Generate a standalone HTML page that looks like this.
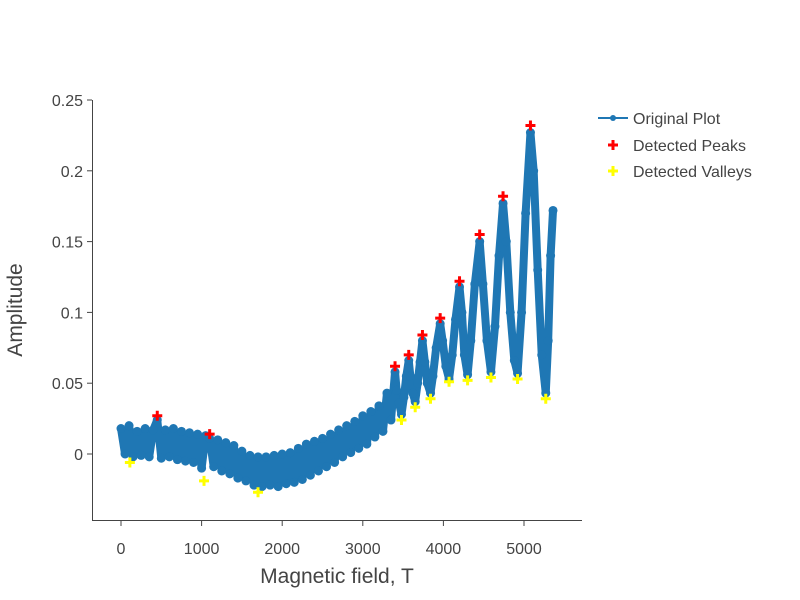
<!DOCTYPE html>
<html><head><meta charset="utf-8"><style>
body{margin:0;background:#fff;}
svg{font-family:"Liberation Sans",sans-serif;display:block}
</style></head><body>
<svg id="chart" width="800" height="600"></svg>
<script>
const xVals=[0,50,100,150,200,250,300,350,400,450,500,550,600,650,700,750,800,850,900,950,1000,1050,1100,1150,1200,1250,1300,1350,1400,1450,1500,1550,1600,1650,1700,1750,1800,1850,1900,1950,2000,2050,2100,2150,2200,2250,2300,2350,2400,2450,2500,2550,2600,2650,2700,2750,2800,2850,2900,2950,3000,3050,3100,3150,3200,3250,3300,3350,
3400,3420,3450,3480,3510,3540,3570,3590,3620,3650,3680,3710,3740,3770,3800,3840,3870,3910,3960,3990,4030,4070,4110,4150,4200,4230,4260,4300,4340,4390,4450,4490,4540,4590,4640,4690,4740,4780,4830,4880,4920,4970,5020,5080,5120,5170,5220,5270,5300,5330,5360];
const yVals=[0.018,0.0,0.02,-0.002,0.016,-0.001,0.018,-0.002,0.017,0.024,-0.003,0.017,-0.002,0.018,-0.004,0.016,-0.005,0.015,-0.006,0.014,-0.01,0.013,0.011,-0.009,0.01,-0.012,0.008,-0.014,0.006,-0.017,0.002,-0.019,-0.001,-0.022,-0.002,-0.023,-0.002,-0.022,-0.001,-0.023,0.0,-0.021,0.001,-0.02,0.004,-0.018,0.007,-0.015,0.009,-0.012,0.011,-0.009,0.014,-0.006,0.017,-0.002,0.02,0.001,0.023,0.004,0.027,0.007,0.03,0.012,0.034,0.016,0.043,0.024,
0.058,0.045,0.036,0.028,0.04,0.055,0.066,0.055,0.043,0.037,0.05,0.065,0.08,0.065,0.05,0.043,0.055,0.075,0.092,0.08,0.062,0.053,0.07,0.095,0.118,0.1,0.07,0.056,0.08,0.12,0.15,0.12,0.08,0.058,0.09,0.14,0.177,0.15,0.1,0.066,0.057,0.1,0.17,0.227,0.2,0.13,0.07,0.043,0.08,0.14,0.172];
const peakX=[450,1100,3400,3570,3740,3960,4200,4450,4740,5080];
const peakY=[0.027,0.014,0.062,0.07,0.084,0.096,0.122,0.155,0.182,0.232];
const valleyX=[110,1030,1700,3480,3650,3840,4070,4300,4590,4920,5270];
const valleyY=[-0.006,-0.019,-0.027,0.024,0.033,0.039,0.051,0.052,0.054,0.053,0.039];
const xTicks=[0,1000,2000,3000,4000,5000];
const yTicks=[0,0.05,0.1,0.15,0.2,0.25];
const yTickLabels=["0","0.05","0.1","0.15","0.2","0.25"];

const NS="http://www.w3.org/2000/svg";
const svg=document.getElementById('chart');
const X=v=>121+v*0.0806;
const Y=v=>454-v*1416;
function mk(t,a,p){const e=document.createElementNS(NS,t);for(const k in a)e.setAttribute(k,a[k]);(p||svg).appendChild(e);return e;}

let ax=mk('line',{x1:92.5,y1:100,x2:92.5,y2:520.5,stroke:'#444','stroke-width':1});


let bx=mk('line',{x1:92,y1:520.5,x2:582,y2:520.5,stroke:'#444','stroke-width':1});


xTicks.forEach(t=>{
 mk('line',{x1:X(t),y1:521,x2:X(t),y2:526,stroke:'#444'});
 const tx=mk('text',{x:X(t),y:554,'text-anchor':'middle','font-size':16,fill:'#444'});tx.textContent=t;
 
 
});
yTicks.forEach((t,i)=>{
 mk('line',{x1:87,y1:Y(t),x2:92,y2:Y(t),stroke:'#444'});
 const tx=mk('text',{x:83,y:Y(t)+6,'text-anchor':'end','font-size':16,fill:'#444'});tx.textContent=yTickLabels[i];
 
 
});
let xt=mk('text',{x:337,y:583,'text-anchor':'middle','font-size':21,fill:'#444'});xt.textContent='Magnetic field, T';


let yt=mk('text',{x:22,y:310,'text-anchor':'middle','font-size':21,fill:'#444',transform:'rotate(-90 22 310)'});yt.textContent='Amplitude';



const g=mk('g',{});


mk('polyline',{points:xVals.map((x,i)=>X(x)+','+Y(yVals[i])).join(' '),fill:'none',stroke:'#1f77b4','stroke-width':8,'stroke-linejoin':'round'},g);
xVals.forEach((x,i)=>{const c=mk('circle',{cx:X(x),cy:Y(yVals[i]),r:4.5,fill:'#1f77b4'},g);
 
 });
function cross(cx,cy,col,p){return mk('path',{d:`M${cx-5},${cy-1.5}h3.5v-3.5h3v3.5h3.5v3h-3.5v3.5h-3v-3.5h-3.5z`,fill:col},p);}
const gp=mk('g',{});
peakX.forEach((x,i)=>{const c=cross(X(x),Y(peakY[i]),'#ff0000',gp);
 
 });
const gv=mk('g',{});
valleyX.forEach((x,i)=>{const c=cross(X(x),Y(valleyY[i]),'#ffff00',gv);
 
 });

const lg=mk('g',{});
let e1=mk('g',{},lg);
mk('line',{x1:598,y1:118,x2:628,y2:118,stroke:'#1f77b4','stroke-width':2},e1);
mk('circle',{cx:613,cy:118,r:3,fill:'#1f77b4'},e1);
mk('text',{x:633,y:124,'font-size':16,fill:'#444'},e1).textContent='Original Plot';
let e2=mk('g',{},lg);
cross(613,145,'#ff0000',e2);
mk('text',{x:633,y:151,'font-size':16,fill:'#444'},e2).textContent='Detected Peaks';
let e3=mk('g',{},lg);
cross(613,171,'#ffff00',e3);
mk('text',{x:633,y:177,'font-size':16,fill:'#444'},e3).textContent='Detected Valleys';
</script>
</body></html>
